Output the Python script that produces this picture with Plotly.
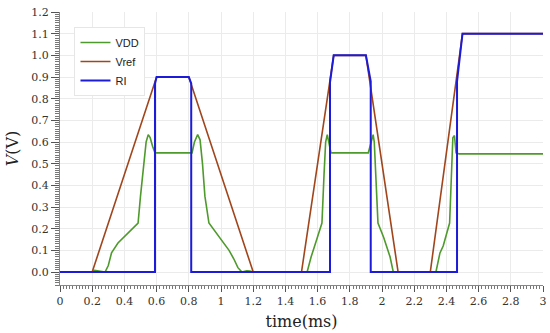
import plotly.graph_objects as go

# ---- data (time in ms, voltage in V) ----
t_vdd = [0, 0.2, 0.215, 0.25, 0.28, 0.30, 0.32, 0.36, 0.40, 0.45, 0.485, 0.50, 0.52, 0.535, 0.548, 0.56, 0.575, 0.59,
         0.82, 0.835, 0.855, 0.87, 0.885, 0.90, 0.925, 0.96, 1.0, 1.05, 1.08, 1.105, 1.13, 1.16, 1.18, 1.2,
         1.535, 1.56, 1.59, 1.627, 1.64, 1.65, 1.66, 1.67, 1.683,
         1.915, 1.935, 1.945, 1.952, 1.975, 2.01, 2.05, 2.07,
         2.335, 2.36, 2.38, 2.42, 2.43, 2.44, 2.45, 2.46, 2.48, 3.0]
vdd = [0, 0, 0.008, 0.003, 0, 0.03, 0.088, 0.134, 0.165, 0.2, 0.226, 0.35, 0.5, 0.6, 0.634, 0.62, 0.58, 0.55,
       0.55, 0.6, 0.634, 0.61, 0.5, 0.35, 0.226, 0.19, 0.15, 0.10, 0.06, 0.02, 0.0, 0.006, 0.004, 0,
       0, 0.07, 0.14, 0.226, 0.45, 0.6, 0.634, 0.6, 0.55,
       0.55, 0.6, 0.634, 0.6, 0.226, 0.16, 0.07, 0,
       0, 0.088, 0.12, 0.226, 0.45, 0.62, 0.63, 0.55, 0.545, 0.545]

t_vref = [0, 0.2, 0.6, 0.8, 1.2, 1.5, 1.7, 1.9, 2.1, 2.3, 2.5, 3.0]
vref = [0, 0, 0.9, 0.9, 0, 0, 1.0, 1.0, 0, 0, 1.1, 1.1]

t_rl = [0, 0.59, 0.59, 0.6, 0.8, 0.815, 0.815, 1.677, 1.677, 1.70, 1.90, 1.93, 1.93, 2.466, 2.466, 2.50, 3.0]
rl = [0, 0, 0.87, 0.9, 0.9, 0.87, 0, 0, 0.875, 1.0, 1.0, 0.88, 0, 0, 0.88, 1.1, 1.1]

x_ticks = [0, 0.2, 0.4, 0.6, 0.8, 1, 1.2, 1.4, 1.6, 1.8, 2, 2.2, 2.4, 2.6, 2.8, 3]
x_labels = ["0", "0.2", "0.4", "0.6", "0.8", "1", "1.2", "1.4", "1.6", "1.8", "2", "2.2", "2.4", "2.6", "2.8", "3"]
y_ticks = [0.0, 0.1, 0.2, 0.3, 0.4, 0.5, 0.6, 0.7, 0.8, 0.9, 1.0, 1.1, 1.2]
y_labels = ["0.0", "0.1", "0.2", "0.3", "0.4", "0.5", "0.6", "0.7", "0.8", "0.9", "1.0", "1.1", "1.2"]

GREEN = "#4f9a2c"
BROWN = "#a0451c"
BLUE = "#1c1cd8"

fig = go.Figure()
fig.add_trace(go.Scatter(x=t_vdd, y=vdd, mode="lines", name="VDD",
                         line=dict(color=GREEN, width=1.6)))
fig.add_trace(go.Scatter(x=t_vref, y=vref, mode="lines", name="Vref",
                         line=dict(color=BROWN, width=1.6)))
fig.add_trace(go.Scatter(x=t_rl, y=rl, mode="lines", name="RI",
                         line=dict(color=BLUE, width=2)))

serif = "DejaVu Serif"
fig.update_layout(
    width=550, height=333,
    margin=dict(l=60, r=7, t=12, b=48),
    paper_bgcolor="white", plot_bgcolor="white",
    showlegend=True,
    legend=dict(x=0.03, y=0.945, xanchor="left", yanchor="top",
                bgcolor="white", bordercolor="#e6e6e6", borderwidth=1,
                font=dict(family="Liberation Sans", size=11, color="#222"),
                tracegroupgap=0, itemwidth=30),
    xaxis=dict(range=[0, 3], tickvals=x_ticks, ticktext=x_labels, automargin=False,
               showgrid=True, gridcolor="#ebebeb", gridwidth=1,
               zeroline=False, showline=True, linecolor="#888", linewidth=1,
               ticks="outside", ticklen=6, tickcolor="#555",
               minor=dict(dtick=0.02, tick0=0, ticks="outside", ticklen=3, tickcolor="#777", showgrid=False),
               tickfont=dict(family=serif, size=11, color="#333"),
               title=dict(text="time(ms)", font=dict(family=serif, size=16, color="#222"), standoff=8)),
    yaxis=dict(range=[-0.06, 1.2], tickvals=y_ticks, ticktext=y_labels, automargin=False,
               showgrid=True, gridcolor="#ebebeb", gridwidth=1,
               zeroline=False, showline=True, linecolor="#888", linewidth=1,
               ticks="outside", ticklen=8, tickcolor="#555",
               minor=dict(dtick=0.01, tick0=0, ticks="outside", ticklen=4, tickcolor="#777", showgrid=False),
               tickfont=dict(family=serif, size=11, color="#333"),
               title=dict(text="<i>V</i>(V)", font=dict(family=serif, size=16, color="#222"), standoff=8)),
)

fig.write_html("out.html", config={"displayModeBar": False},
               post_script="document.body.style.margin='0';")
